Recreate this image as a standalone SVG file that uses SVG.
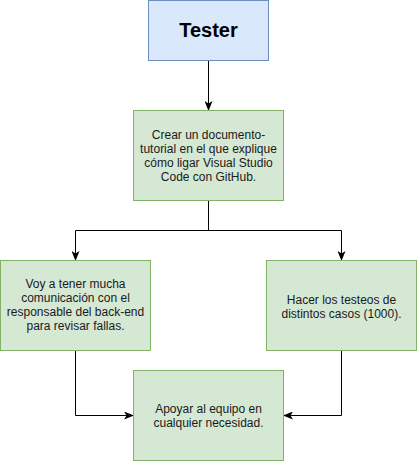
<svg xmlns="http://www.w3.org/2000/svg" width="417" height="461" viewBox="0 0 417 461">
<style>
.blue{fill:#dae8fc;stroke:#6c8ebf;stroke-width:1}
.green{fill:#d5e8d4;stroke:#82b366;stroke-width:1}
.t{font-family:"Liberation Sans",Arial,sans-serif;font-size:12px;fill:#1a1a1a;text-anchor:middle}
.title{font-family:"Liberation Sans",Arial,sans-serif;font-size:20px;font-weight:bold;fill:#000;text-anchor:middle}
.c{fill:none;stroke:#000;stroke-width:1}
</style>
<defs>
<marker id="arr" viewBox="0 0 10 8" refX="9" refY="4" markerWidth="10" markerHeight="8" markerUnits="userSpaceOnUse" orient="auto">
<path d="M0,0 L10,4 L0,8 L2.5,4 z" fill="#000"/>
</marker>
</defs>
<g id="connectors">
<path class="c" d="M208.5,60.5 V110" marker-end="url(#arr)"/>
<path class="c" d="M208.5,200.5 V230.5 H75.5 V260" marker-end="url(#arr)"/>
<path class="c" d="M208.5,200.5 V230.5 H341.5 V260" marker-end="url(#arr)"/>
<path class="c" d="M75.5,350.5 V415.5 H133" marker-end="url(#arr)"/>
<path class="c" d="M341.5,350.5 V415.5 H284" marker-end="url(#arr)"/>
</g>
<g id="tester">
<rect class="blue" x="148.5" y="0.5" width="120" height="60"/>
<text class="title" x="208.5" y="37">Tester</text>
</g>
<g id="crear">
<rect class="green" x="133.5" y="110.5" width="150" height="90"/>
<text class="t" x="208.5" y="138.5">Crear un documento-</text>
<text class="t" x="208.5" y="152.5">tutorial en el que explique</text>
<text class="t" x="208.5" y="166.5">cómo ligar Visual Studio</text>
<text class="t" x="208.5" y="180.5">Code con GitHub.</text>
</g>
<g id="comunicacion">
<rect class="green" x="0.5" y="260.5" width="150" height="90"/>
<text class="t" x="75.5" y="287.5">Voy a tener mucha</text>
<text class="t" x="75.5" y="301.5">comunicación con el</text>
<text class="t" x="75.5" y="315.5">responsable del back-end</text>
<text class="t" x="75.5" y="329.5">para revisar fallas.</text>
</g>
<g id="testeos">
<rect class="green" x="266.5" y="260.5" width="150" height="90"/>
<text class="t" x="341.5" y="303.5">Hacer los testeos de</text>
<text class="t" x="341.5" y="317.5">distintos casos (1000).</text>
</g>
<g id="apoyar">
<rect class="green" x="133.5" y="370.5" width="150" height="90"/>
<text class="t" x="208.5" y="413">Apoyar al equipo en</text>
<text class="t" x="208.5" y="427">cualquier necesidad.</text>
</g>
</svg>
